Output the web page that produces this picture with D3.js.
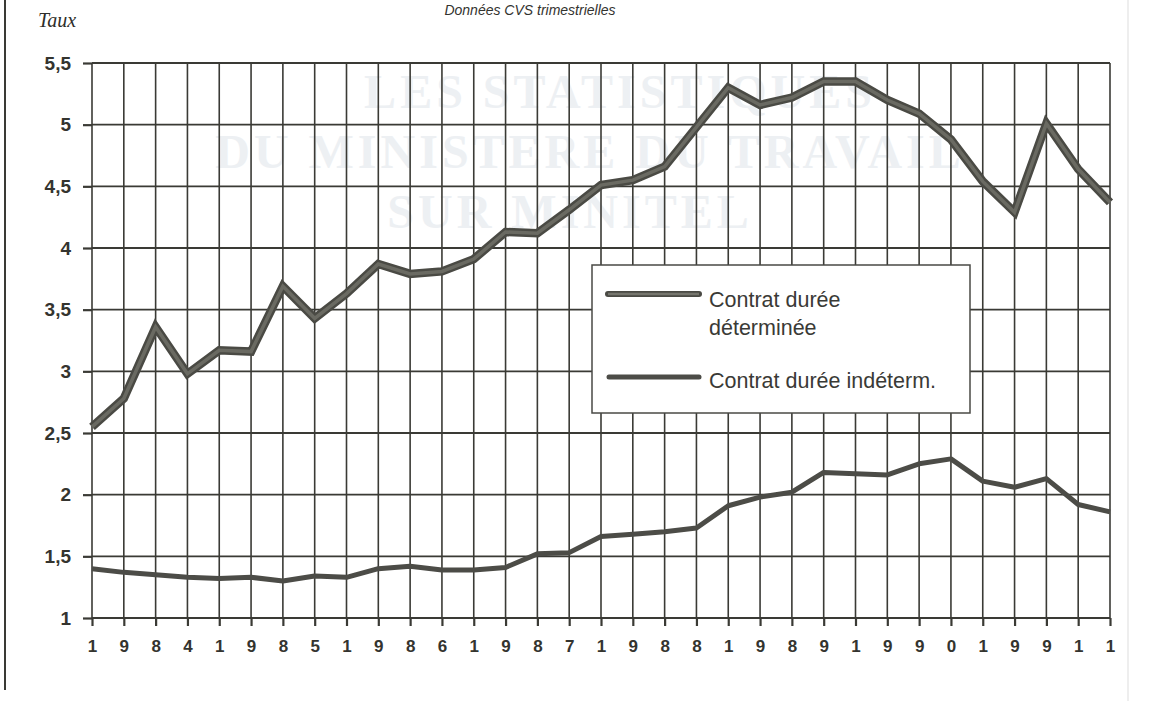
<!DOCTYPE html>
<html><head><meta charset="utf-8">
<script src="https://cdn.jsdelivr.net/npm/d3@7"></script>
<style>body{margin:0;background:#fff;}svg{display:block;}</style>
</head><body>
<script>
// ---- data ----
const quarters = ["1984T1","1984T2","1984T3","1984T4","1985T1","1985T2","1985T3","1985T4",
  "1986T1","1986T2","1986T3","1986T4","1987T1","1987T2","1987T3","1987T4",
  "1988T1","1988T2","1988T3","1988T4","1989T1","1989T2","1989T3","1989T4",
  "1990T1","1990T2","1990T3","1990T4","1991T1","1991T2","1991T3","1991T4","1992T1"];
const tickLabels = ["1","9","8","4","1","9","8","5","1","9","8","6","1","9","8","7",
  "1","9","8","8","1","9","8","9","1","9","9","0","1","9","9","1","1"];
const cdd = [2.55,2.78,3.36,2.98,3.17,3.16,3.69,3.43,3.63,3.87,3.79,3.81,3.91,4.13,4.12,4.31,
  4.51,4.55,4.66,4.98,5.30,5.16,5.22,5.35,5.35,5.20,5.09,4.88,4.54,4.29,5.01,4.64,4.37];
const cdi = [1.40,1.37,1.35,1.33,1.32,1.33,1.30,1.34,1.33,1.40,1.42,1.39,1.39,1.41,1.52,1.53,
  1.66,1.68,1.70,1.73,1.91,1.98,2.02,2.18,2.17,2.16,2.25,2.29,2.11,2.06,2.13,1.92,1.86];
const yTicks = [1,1.5,2,2.5,3,3.5,4,4.5,5,5.5];
const seriesNames = ["Contrat durée déterminée","Contrat durée indéterm."];

const W=1155,H=701;
const svg=d3.select("body").append("svg").attr("width",W).attr("height",H);
svg.append("rect").attr("width",W).attr("height",H).attr("fill","#ffffff");

// faint show-through text from the scanned page
const wm = svg.append("g").attr("font-family","Liberation Serif, serif").attr("font-weight","bold")
  .attr("fill","#edf0f3").attr("text-anchor","middle").attr("font-size",48).attr("letter-spacing",4);
wm.append("text").attr("x",620).attr("y",108).text("LES STATISTIQUES");
wm.append("text").attr("x",590).attr("y",168).text("DU MINISTERE DU TRAVAIL");
wm.append("text").attr("x",570).attr("y",228).text("SUR MINITEL");

const x=d3.scalePoint().domain(quarters).range([92,1110]);
const y=d3.scaleLinear().domain([1,5.5]).range([618,63]);
const ink="#3a3a35";

// grid
const g=svg.append("g");
g.selectAll("line.v").data(quarters).join("line")
  .attr("x1",d=>x(d)).attr("x2",d=>x(d)).attr("y1",y(5.5)).attr("y2",y(1))
  .attr("stroke",ink).attr("stroke-width",1.6);
g.selectAll("line.h").data(yTicks).join("line")
  .attr("x1",x(quarters[0])).attr("x2",x(quarters[32])).attr("y1",d=>y(d)).attr("y2",d=>y(d))
  .attr("stroke",ink).attr("stroke-width",1.8);

// axes
const xa=svg.append("g").attr("transform",`translate(0,${y(1)})`)
  .call(d3.axisBottom(x).tickSize(8).tickPadding(14).tickFormat((d,i)=>tickLabels[i]));
const ya=svg.append("g").attr("transform",`translate(${x(quarters[0])},0)`)
  .call(d3.axisLeft(y).tickValues(yTicks).tickSize(9).tickPadding(12)
    .tickFormat(d=>String(d).replace(".",",")));
[xa,ya].forEach(a=>{
  a.select(".domain").remove();
  a.selectAll("line").attr("stroke",ink).attr("stroke-width",2.2);
  a.selectAll("text").attr("fill","#34342f").attr("font-family","Liberation Sans, Arial, sans-serif")
    .attr("font-weight","bold").attr("font-size",17);
});
ya.selectAll("text").attr("font-size",19);

// lines
const line=d3.line().x((d,i)=>x(quarters[i])).y(d=>y(d));
svg.append("path").datum(cdi).attr("d",line).attr("fill","none")
  .attr("stroke","#4c4c47").attr("stroke-width",5).attr("stroke-linejoin","round");
svg.append("path").datum(cdd).attr("d",line).attr("fill","none")
  .attr("stroke","#4a4a44").attr("stroke-width",8.5).attr("stroke-linejoin","miter");
svg.append("path").datum(cdd).attr("d",line).attr("fill","none")
  .attr("stroke","#6a6a62").attr("stroke-width",3.5).attr("stroke-linejoin","miter");

// legend
const lg=svg.append("g");
lg.append("rect").attr("x",592).attr("y",265).attr("width",378).attr("height",148)
  .attr("fill","#fff").attr("stroke","#4a4a45").attr("stroke-width",1.5);
lg.append("line").attr("x1",608).attr("x2",699).attr("y1",294).attr("y2",294)
  .attr("stroke","#4a4a44").attr("stroke-width",6).attr("stroke-linecap","round");
lg.append("line").attr("x1",608).attr("x2",699).attr("y1",294).attr("y2",294)
  .attr("stroke","#75756d").attr("stroke-width",2.5);
lg.append("line").attr("x1",609).attr("x2",699).attr("y1",377).attr("y2",377)
  .attr("stroke","#4c4c47").attr("stroke-width",5).attr("stroke-linecap","round");
const lt=lg.append("g").attr("font-family","Liberation Sans, Arial, sans-serif")
  .attr("font-size",21.5).attr("fill","#3a3a36");
lt.append("text").attr("x",709).attr("y",307).text("Contrat durée");
lt.append("text").attr("x",709).attr("y",335).text("déterminée");
lt.append("text").attr("x",709).attr("y",388).text(seriesNames[1]);

// texts
svg.append("text").attr("x",38).attr("y",27).attr("font-family","Liberation Serif, serif")
  .attr("font-style","italic").attr("font-size",20).attr("fill","#2e2e2a").text("Taux");
svg.append("text").attr("x",530).attr("y",15).attr("text-anchor","middle")
  .attr("font-family","Liberation Sans, Arial, sans-serif").attr("font-style","italic")
  .attr("font-size",14).attr("fill","#33332f").text("Données CVS trimestrielles");

// page frame
svg.append("line").attr("x1",5).attr("x2",5).attr("y1",0).attr("y2",690)
  .attr("stroke","#3a3a35").attr("stroke-width",2);
svg.append("line").attr("x1",1128).attr("x2",1128).attr("y1",0).attr("y2",701)
  .attr("stroke","#e8e8e8").attr("stroke-width",1.5);
</script>
</body></html>
